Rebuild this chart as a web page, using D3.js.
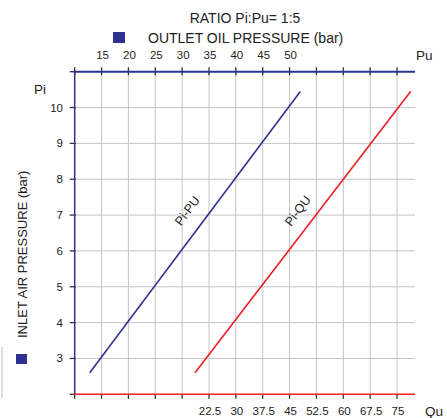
<!DOCTYPE html>
<html><head><meta charset="utf-8">
<script src="https://cdn.jsdelivr.net/npm/d3@7"></script>
<style>body{margin:0;background:#fff}svg{display:block}text{font-family:"Liberation Sans",Arial,sans-serif;fill:#222}</style>
</head><body>
<svg id="c" width="447" height="418"></svg>
<script>
const piValues = [2.6, 10.45];
const puValues = [12.8, 52];
const quValues = [18.6, 78.8];
const puTicks = [10,15,20,25,30,35,40,45,50,55,60,65,70];
const puLabels = [15,20,25,30,35,40,45,50];
const quTicks = [-15,-7.5,0,7.5,15,22.5,30,37.5,45,52.5,60,67.5,75];
const quLabels = [22.5,30,37.5,45,52.5,60,67.5,75];
const piTicks = [2,3,4,5,6,7,8,9,10,11];
const piLabels = [3,4,5,6,7,8,9,10];

const BLUE = "#2e3192", RED = "#ee1c25", GRID = "#c4c4c4", TICK = "#333";
const svg = d3.select("#c");
const L = 74.7, R = 397, RE = 415, T = 71.7, B = 394.3;
const xPu = d3.scaleLinear().domain([10,70]).range([L,R]);
const xQu = d3.scaleLinear().domain([-15,75]).range([L,R]);
const y = d3.scaleLinear().domain([2,11]).range([B,T]);

// grid
svg.append("g").selectAll("line").data(puTicks.slice(1)).join("line")
  .attr("x1",d=>xPu(d)).attr("x2",d=>xPu(d)).attr("y1",T).attr("y2",B)
  .attr("stroke",GRID).attr("stroke-width",1);
svg.append("g").selectAll("line").data(piLabels).join("line")
  .attr("x1",L).attr("x2",RE).attr("y1",d=>y(d)).attr("y2",d=>y(d))
  .attr("stroke",GRID).attr("stroke-width",1);

// ticks
svg.append("g").selectAll("line").data(puTicks).join("line")
  .attr("x1",d=>xPu(d)).attr("x2",d=>xPu(d)).attr("y1",T-4.5).attr("y2",T+3.5)
  .attr("stroke",TICK).attr("stroke-width",1.3);
svg.append("g").selectAll("line").data(quTicks).join("line")
  .attr("x1",d=>xQu(d)).attr("x2",d=>xQu(d)).attr("y1",B).attr("y2",B+4.5)
  .attr("stroke",TICK).attr("stroke-width",1.3);
svg.append("g").selectAll("line").data(piTicks).join("line")
  .attr("x1",L-5).attr("x2",L+1).attr("y1",d=>y(d)).attr("y2",d=>y(d))
  .attr("stroke",TICK).attr("stroke-width",1.3);

// axes lines
svg.append("line").attr("x1",L).attr("x2",L).attr("y1",T).attr("y2",B).attr("stroke",BLUE).attr("stroke-width",1.5);
svg.append("line").attr("x1",L-1).attr("x2",RE).attr("y1",T).attr("y2",T).attr("stroke",BLUE).attr("stroke-width",2);
svg.append("line").attr("x1",L-1).attr("x2",RE).attr("y1",B).attr("y2",B).attr("stroke",RED).attr("stroke-width",1.5);

// tick labels
svg.append("g").selectAll("text").data(puLabels).join("text")
  .attr("x",d=>xPu(d)+1).attr("y",59).attr("text-anchor","middle").attr("font-size",11.5).text(d=>d);
svg.append("g").selectAll("text").data(quLabels).join("text")
  .attr("x",d=>xQu(d)+1).attr("y",415).attr("text-anchor","middle").attr("font-size",11.5).text(d=>d);
svg.append("g").selectAll("text").data(piLabels).join("text")
  .attr("x",63).attr("y",d=>y(d)+4).attr("text-anchor","end").attr("font-size",11.5).text(d=>d);

// data lines
const line = (xs) => d3.line().x((d,i)=>xs[i]).y(d=>y(d));
svg.append("path").attr("d", line(puValues.map(v=>xPu(v)))(piValues))
  .attr("fill","none").attr("stroke",BLUE).attr("stroke-width",1.6);
svg.append("path").attr("d", line(quValues.map(v=>xQu(v)))(piValues))
  .attr("fill","none").attr("stroke",RED).attr("stroke-width",1.6);

// line labels
const lp = 7.12;
svg.append("text").attr("transform",`translate(${xPu(lp*5)-25},${y(lp)}) rotate(-53)`)
  .attr("text-anchor","middle").attr("dy","0.35em").attr("font-size",12.5).text("Pi-PU");
svg.append("text").attr("transform",`translate(${xQu(lp*7.5)-22},${y(lp)}) rotate(-53)`)
  .attr("text-anchor","middle").attr("dy","0.35em").attr("font-size",12.5).text("Pi-QU");

// titles
svg.append("text").attr("x",245).attr("y",23).attr("text-anchor","middle").attr("font-size",14).text("RATIO Pi:Pu= 1:5");
svg.append("rect").attr("x",113).attr("y",32).attr("width",12).attr("height",11).attr("fill",BLUE);
svg.append("text").attr("x",148).attr("y",43).attr("font-size",14).text("OUTLET OIL PRESSURE (bar)");
svg.append("text").attr("x",416).attr("y",60).attr("font-size",13.5).text("Pu");
svg.append("text").attr("x",425).attr("y",416).attr("font-size",13.5).text("Qu");
svg.append("text").attr("x",34).attr("y",94).attr("font-size",13.5).text("Pi");
svg.append("rect").attr("x",16).attr("y",354).attr("width",11).attr("height",10).attr("fill",BLUE);
svg.append("text").attr("transform","translate(27,338) rotate(-90)").attr("font-size",13).text("INLET AIR PRESSURE (bar)");
svg.append("rect").attr("x",1).attr("y",347).attr("width",2).attr("height",51).attr("fill","#ddd");
</script>
</body></html>
